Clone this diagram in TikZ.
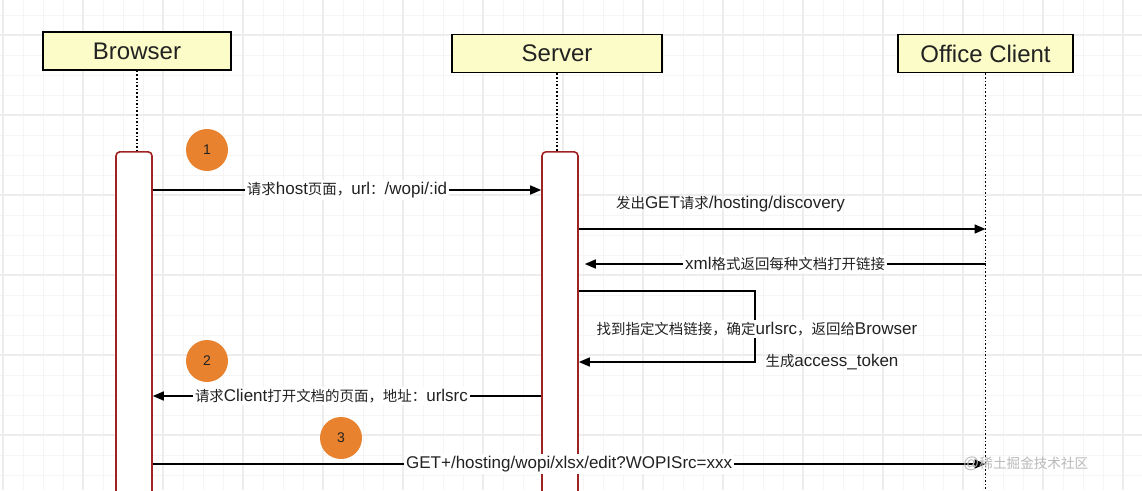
\documentclass[tikz,border=0pt]{standalone}
\usepackage{fontspec}
\setmainfont{Liberation Sans}
\newfontfamily\cjk[Scale=0.85]{Noto Sans CJK SC}
\usetikzlibrary{arrows.meta}
\definecolor{headfill}{RGB}{252,252,200}
\definecolor{actred}{RGB}{160,35,35}
\definecolor{steporange}{RGB}{232,130,46}
\definecolor{txtdark}{RGB}{34,34,34}
\newcommand{\zh}[1]{{\cjk #1}}

\begin{document}
\begin{tikzpicture}[x=1pt, y=-1pt,
    headbox/.style={draw=black, line width=1.6pt, fill=headfill, minimum height=38pt, font=\fontsize{24}{27}\selectfont, text=txtdark},
    actbar/.style={draw=actred, line width=1.6pt, fill=white, rounded corners=4pt, minimum width=36pt, minimum height=360pt},
    lifeline/.style={line width=1.6pt, dash pattern=on 1.6pt off 2pt},
    msg/.style={line width=1.6pt, -{Triangle[length=11pt,width=9pt]}},
    lbl/.style={fill=white, inner sep=2pt, font=\fontsize{17}{19}\selectfont, text=txtdark},
    stepnum/.style={circle, fill=steporange, minimum size=42pt, inner sep=0pt, font=\fontsize{14}{16}\selectfont, text=txtdark}]

            \useasboundingbox (0,0) rectangle (1142,490);
            \clip (0,0) rectangle (1142,490);

            % grid
            \foreach \gx in {3,23,...,1143} \draw[gray!8, line width=0.8pt] (\gx,0) -- (\gx,490);
            \foreach \gy in {15,35,...,495} \draw[gray!8, line width=0.8pt] (0,\gy) -- (1142,\gy);
            \foreach \gx in {3,83,...,1143} \draw[gray!14, line width=1.4pt] (\gx,0) -- (\gx,490);
            \foreach \gy in {35,115,...,495} \draw[gray!14, line width=1.4pt] (0,\gy) -- (1142,\gy);

            \node[headbox, minimum width=188pt] (browser) at (137,51) {Browser};
            \node[headbox, minimum width=210pt] (server) at (557,53.5) {Server};
            \node[headbox, minimum width=175pt] (office) at (985.5,53.5) {Office Client};

            \node[actbar, anchor=north] (brAct) at (134,151) {};
            \node[actbar, anchor=north] (svAct) at (560,151) {};

            \draw[lifeline] (browser.south) -- (browser.south |- brAct.north);
            \draw[lifeline] (server.south) -- (server.south |- svAct.north);
            \coordinate (ofEnd) at (office.south |- 0,500);
            \draw[lifeline] (office.south) -- (ofEnd);

            \draw[msg] (brAct.east |- 0,190) -- (svAct.west |- 0,190) node[midway, lbl] {\zh{请求}host\zh{页面，}url\zh{：}/wopi/:id};
            \draw[msg] (svAct.east |- 0,229) -- (office.south |- 0,229) node[pos=0.373, yshift=25pt, lbl, fill=none] {\zh{发出}GET\zh{请求}/hosting/discovery};
            \draw[msg] (office.south |- 0,264) -- ([xshift=6pt]svAct.east |- 0,264) node[midway, lbl] {xml\zh{格式返回每种文档打开链接}};

            % self call
            \coordinate (loopR) at (755,291);
            \draw[msg] (svAct.east |- loopR) -- (loopR) -- (loopR |- 0,362) -- (svAct.east |- 0,362);
            \node[lbl] (findLbl) at (757,329) {\zh{找到指定文档链接，确定}urlsrc\zh{，返回给}Browser};
            \node[lbl, fill=none] (tokLbl) at (832,362) {\zh{生成}access\_token};

            \draw[msg] (svAct.west |- 0,396) -- (brAct.east |- 0,396) node[pos=0.54, lbl] {\zh{请求}Client\zh{打开文档的页面，地址：}urlsrc};
            \draw[msg] (brAct.east |- 0,464) -- (ofEnd |- 0,464) node[midway, lbl] {GET+/hosting/wopi/xlsx/edit?WOPISrc=xxx};

            \node[stepnum] (n1) at (207,150) {1};
            \node[stepnum] (n2) at (207,361) {2};
            \node[stepnum] (n3) at (341,438) {3};

            %\node at (1050,464) {watermark};
            \node[text=gray!55, font=\fontsize{16}{18}\selectfont, anchor=west, inner sep=0pt] (wmark) at (963,464) {@\zh{稀土掘金技术社区}};
\end{tikzpicture}
\end{document}
